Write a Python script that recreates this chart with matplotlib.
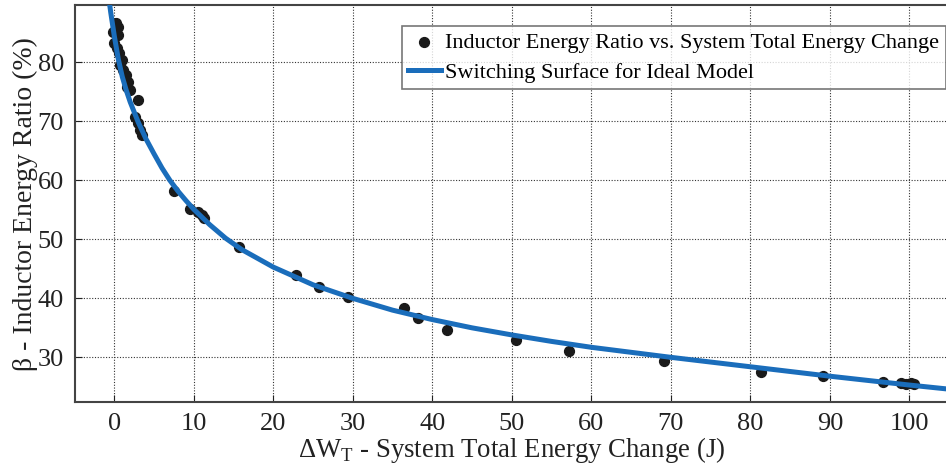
import matplotlib.pyplot as plt

plt.rcParams['font.family'] = ['Liberation Serif', 'DejaVu Serif']
plt.rcParams['mathtext.fontset'] = 'custom'
plt.rcParams['mathtext.rm'] = 'Liberation Serif'

# measured operating points (energy change in J, inductor energy ratio in %)
meas_dw = [0.17, 0.5, -0.12, 0.5, 0.0, 0.3, 0.6, 0.93, 0.72, 1.14, 1.43, 1.76,
           1.56, 1.97, 2.94, 2.6, 3.0, 3.23, 3.5, 7.5, 9.5, 10.5, 11.0, 11.3,
           15.7, 22.8, 25.8, 29.4, 36.4, 38.2, 41.8, 50.5, 57.2, 69.1, 81.4,
           89.1, 96.7, 99.0, 99.6, 100.2, 100.6]
meas_beta = [86.7, 86.1, 85.2, 84.7, 83.3, 82.4, 81.6, 80.4, 79.6, 78.7, 77.9, 76.7,
             75.9, 75.3, 73.6, 70.8, 69.7, 68.5, 67.7, 58.2, 55.1, 54.6, 54.1, 53.6,
             48.7, 44.0, 41.9, 40.3, 38.3, 36.7, 34.7, 33.0, 31.0, 29.4, 27.5,
             26.9, 25.9, 25.6, 25.5, 25.6, 25.4]

# ideal model switching surface
ideal_dw = [-0.8, -0.45, 0.0, 0.5, 1.0, 1.5, 2.0, 3.0, 4.0, 5.0, 6.0, 7.0, 8.0,
            9.0, 10.0, 12.0, 14.0, 16.0, 20.0, 25.0, 30.0, 35.0, 40.0, 45.0,
            50.0, 55.0, 60.0, 70.0, 80.0, 90.0, 100.0, 110.0]
ideal_beta = [92.0, 88.5, 84.5, 80.6, 77.6, 75.3, 73.3, 69.9, 67.0, 64.5, 62.1, 60.0,
              58.2, 56.6, 55.1, 52.5, 50.2, 48.3, 45.3, 42.3, 40.0, 38.0, 36.4,
              35.0, 33.8, 32.7, 31.7, 30.0, 28.4, 26.8, 25.3, 23.9]

x_ticks = list(range(0, 101, 10))
y_ticks = list(range(30, 81, 10))

fig = plt.figure(figsize=(9.46, 4.67), dpi=100)
ax = fig.add_axes([0.0793, 0.1385, 0.966, 0.8502])

ax.plot(ideal_dw, ideal_beta, color='#1a6dbb', lw=3.6, zorder=3,
        label='Switching Surface for Ideal Model')
ax.scatter(meas_dw, meas_beta, s=50, color='#1a1a1a', zorder=2,
           label='Inductor Energy Ratio vs. System Total Energy Change')

ax.set_xlim(-4.94, 110)
ax.set_ylim(22.37, 89.7)
ax.set_xticks(x_ticks)
ax.set_yticks(y_ticks)
ax.tick_params(direction='in', length=5, labelsize=19, colors='#222222', pad=8)
ax.grid(True, color='#333333', linestyle=(0, (1, 1.5)), linewidth=0.8)
for sp in ax.spines.values():
    sp.set_color('#444444')
    sp.set_linewidth(1.5)

ax.set_xlabel('ΔW$_{\\mathrm{T}}$ - System Total Energy Change (J)', fontsize=19.3,
              color='#222222')
ax.xaxis.set_label_coords(0.478, -0.082)
ax.set_ylabel('β - Inductor Energy Ratio (%)', fontsize=20, color='#222222',
              labelpad=0)

handles, labels = ax.get_legend_handles_labels()
leg = ax.legend(handles[::-1], labels[::-1], loc='upper left',
                bbox_to_anchor=(0.4246, 0.9443), bbox_transform=fig.transFigure,
                fontsize=16, frameon=True, fancybox=False, borderaxespad=0,
                handlelength=1.45, handletextpad=0.2, borderpad=0.3,
                labelspacing=0.4, scatterpoints=1)
leg.get_frame().set_edgecolor('#555555')
leg.get_frame().set_linewidth(1.2)

fig.savefig('out.png', dpi=100)
